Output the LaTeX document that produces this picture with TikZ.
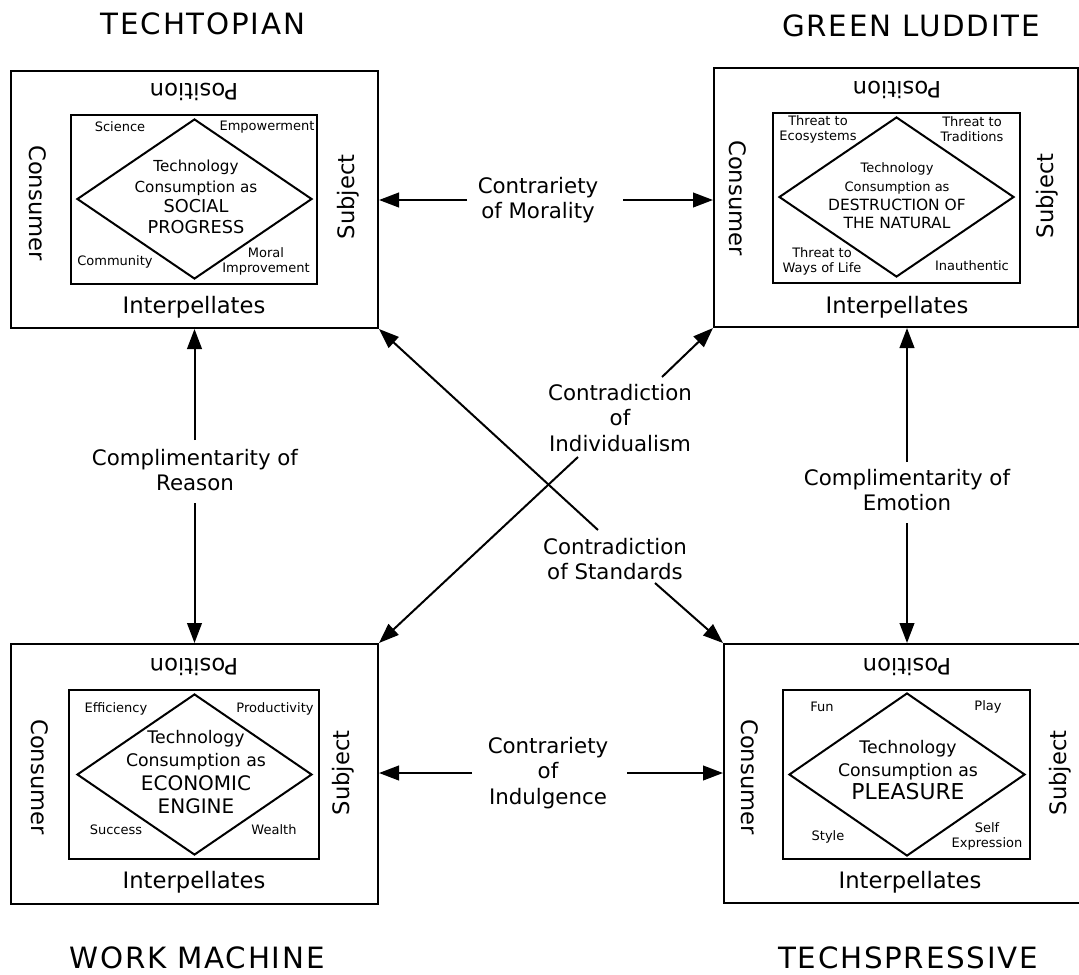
\documentclass[tikz,border=0pt]{standalone}
\usepackage{fontspec}
\setmainfont{DejaVu Sans}
\newfontfamily\titlefont[LetterSpace=6]{DejaVu Sans}
\usetikzlibrary{arrows.meta,shapes.geometric}
\newdimen\px \px=0.75pt
\begin{document}
\begin{tikzpicture}[x=0.75pt,y=-0.75pt,
  outerbox/.style={draw,line width=1.5pt,inner sep=0},
  innerbox/.style={draw,line width=1.5pt,inner sep=0},
  dia/.style={draw,diamond,line width=1.5pt,inner sep=0},
  boxlbl/.style={font=\fontsize{17}{20}\selectfont,inner sep=0},
  small/.style={font=\fontsize{9.75}{11.3}\selectfont,align=center,inner sep=0},
  mid/.style={font=\fontsize{16}{19}\selectfont,align=center,inner sep=0},
  ttl/.style={font=\titlefont\fontsize{22}{26}\selectfont,inner sep=0},
  dtext/.style={align=center,inner sep=0},
  arr/.style={line width=1.5pt,-{Triangle[length=15pt,width=11pt]}}]
\useasboundingbox (0,0) rectangle (1079,975);

% ---------- titles
\node[ttl] (t1) at (203,24) {TECHTOPIAN};
\node[ttl] (t2) at (911,26) {GREEN LUDDITE};
\node[ttl] (t3) at (197,958) {WORK MACHINE};
\node[ttl] (t4) at (908,958) {TECHSPRESSIVE};

% ---------- top-left
\node[outerbox,minimum width=367\px,minimum height=257\px] (TL) at (194.5,199.5) {};
\node[innerbox,minimum width=246\px,minimum height=169\px] (TLi) at (194,199.5) {};
\node[dia,minimum width=235\px,minimum height=160\px] (TLd) at (194.5,199) {};
\node[boxlbl,rotate=180] (TLp) at (194,92) {Position};
\node[boxlbl] (TLint) at (194,307) {Interpellates};
\node[boxlbl,rotate=-90] (TLc) at (38,203) {Consumer};
\node[boxlbl,rotate=90] (TLs) at (348,197) {Subject};
\node[small] (TLa) at (120,127) {Science};
\node[small] (TLb) at (267,127) {Empowerment};
\node[small] (TLcc) at (115,262) {Community};
\node[small] (TLdd) at (266,261) {Moral\\Improvement};
\node[dtext,font=\fontsize{11.4}{15.5}\selectfont] (TLt) at (196,197)
  {Technology\\Consumption as\\
   \fontsize{13.3}{15.5}\selectfont SOCIAL\\\fontsize{13.3}{15.5}\selectfont PROGRESS};

% ---------- top-right
\node[outerbox,minimum width=364\px,minimum height=259\px] (TR) at (896,197.5) {};
\node[innerbox,minimum width=247\px,minimum height=170\px] (TRi) at (896.5,198) {};
\node[dia,minimum width=235\px,minimum height=160\px] (TRd) at (896.5,197) {};
\node[boxlbl,rotate=180] (TRp) at (897,90) {Position};
\node[boxlbl] (TRint) at (897,307) {Interpellates};
\node[boxlbl,rotate=-90] (TRc) at (738,198) {Consumer};
\node[boxlbl,rotate=90] (TRs) at (1047,196) {Subject};
\node[small] (TRa) at (818,129) {Threat to\\Ecosystems};
\node[small] (TRb) at (972,129) {Threat to\\Traditions};
\node[small] (TRcc) at (822,261) {Threat to\\Ways of Life};
\node[small] (TRdd) at (972,266) {Inauthentic};
\node[dtext,font=\fontsize{9.75}{14}\selectfont] (TRt) at (897,196)
  {Technology\\Consumption as\\
   \fontsize{11.6}{14}\selectfont DESTRUCTION OF\\\fontsize{11.6}{14}\selectfont THE NATURAL};

% ---------- bottom-left
\node[outerbox,minimum width=367\px,minimum height=260\px] (BL) at (194.5,774) {};
\node[innerbox,minimum width=250\px,minimum height=169\px] (BLi) at (194,774.5) {};
\node[dia,minimum width=235\px,minimum height=161\px] (BLd) at (194.5,774.5) {};
\node[boxlbl,rotate=180] (BLp) at (194,667) {Position};
\node[boxlbl] (BLint) at (194,882) {Interpellates};
\node[boxlbl,rotate=-90] (BLc) at (40,777) {Consumer};
\node[boxlbl,rotate=90] (BLs) at (343,773) {Subject};
\node[small] (BLa) at (116,709) {Efficiency};
\node[small] (BLb) at (275,709) {Productivity};
\node[small] (BLcc) at (116,830) {Success};
\node[small] (BLdd) at (274,830) {Wealth};
\node[dtext,font=\fontsize{13}{17.5}\selectfont] (BLt) at (196,772)
  {Technology\\Consumption as\\
   \fontsize{15}{17.5}\selectfont ECONOMIC\\\fontsize{15}{17.5}\selectfont ENGINE};

% ---------- bottom-right
\node[outerbox,minimum width=366\px,minimum height=259\px] (BR) at (907,773.5) {};
\node[innerbox,minimum width=247\px,minimum height=169\px] (BRi) at (906.5,774.5) {};
\node[dia,minimum width=236\px,minimum height=163\px] (BRd) at (907,774.5) {};
\node[boxlbl,rotate=180] (BRp) at (907,667) {Position};
\node[boxlbl] (BRint) at (910,882) {Interpellates};
\node[boxlbl,rotate=-90] (BRc) at (750,777) {Consumer};
\node[boxlbl,rotate=90] (BRs) at (1060,773) {Subject};
\node[small] (BRa) at (822,707) {Fun};
\node[small] (BRb) at (988,707) {Play};
\node[small] (BRcc) at (828,837) {Style};
\node[small] (BRdd) at (987,836) {Self\\Expression};
\node[dtext,font=\fontsize{13}{17}\selectfont] (BRt) at (908,770)
  {Technology\\Consumption as\\
   \fontsize{16.4}{17}\selectfont PLEASURE};

% ---------- connector labels
\node[mid] (mor) at (538,200) {Contrariety\\of Morality};
\node[mid] (ind) at (548,773) {Contrariety\\of\\Indulgence};
\node[mid] (rea) at (195,470) {Complimentarity of\\Reason};
\node[mid] (emo) at (907,490) {Complimentarity of\\Emotion};
\node[mid] (idv) at (620,418) {Contradiction\\of\\Individualism};
\node[mid] (std) at (615,559) {Contradiction\\of Standards};

% gap end points of the connectors
\coordinate (morL) at (467,200);
\coordinate (morR) at (623,200);
\coordinate (indL) at (472,773);
\coordinate (indR) at (627,773);
\coordinate (reaT) at (194.5,440);
\coordinate (reaB) at (194.5,503);
\coordinate (emoT) at (907,462);
\coordinate (emoB) at (907,523);
\coordinate (idvT) at (662,377);
\coordinate (idvB) at (578,457);
\coordinate (stdT) at (598,530);
\coordinate (stdB) at (655,583);

% ---------- connectors
\draw[arr] (morL) -- (morL -| TL.east);
\draw[arr] (morR) -- (morR -| TR.west);
\draw[arr] (indL) -- (indL -| BL.east);
\draw[arr] (indR) -- (indR -| BR.west);
\draw[arr] (reaT) -- (reaT |- TL.south);
\draw[arr] (reaB) -- (reaB |- BL.north);
\draw[arr] (emoT) -- (emoT |- TR.south);
\draw[arr] (emoB) -- (emoB |- BR.north);
\draw[arr] (idvT) -- (TR.south west);
\draw[arr] (idvB) -- (BL.north east);
\draw[arr] (stdT) -- (TL.south east);
\draw[arr] (stdB) -- (BR.north west);
\end{tikzpicture}
\end{document}
